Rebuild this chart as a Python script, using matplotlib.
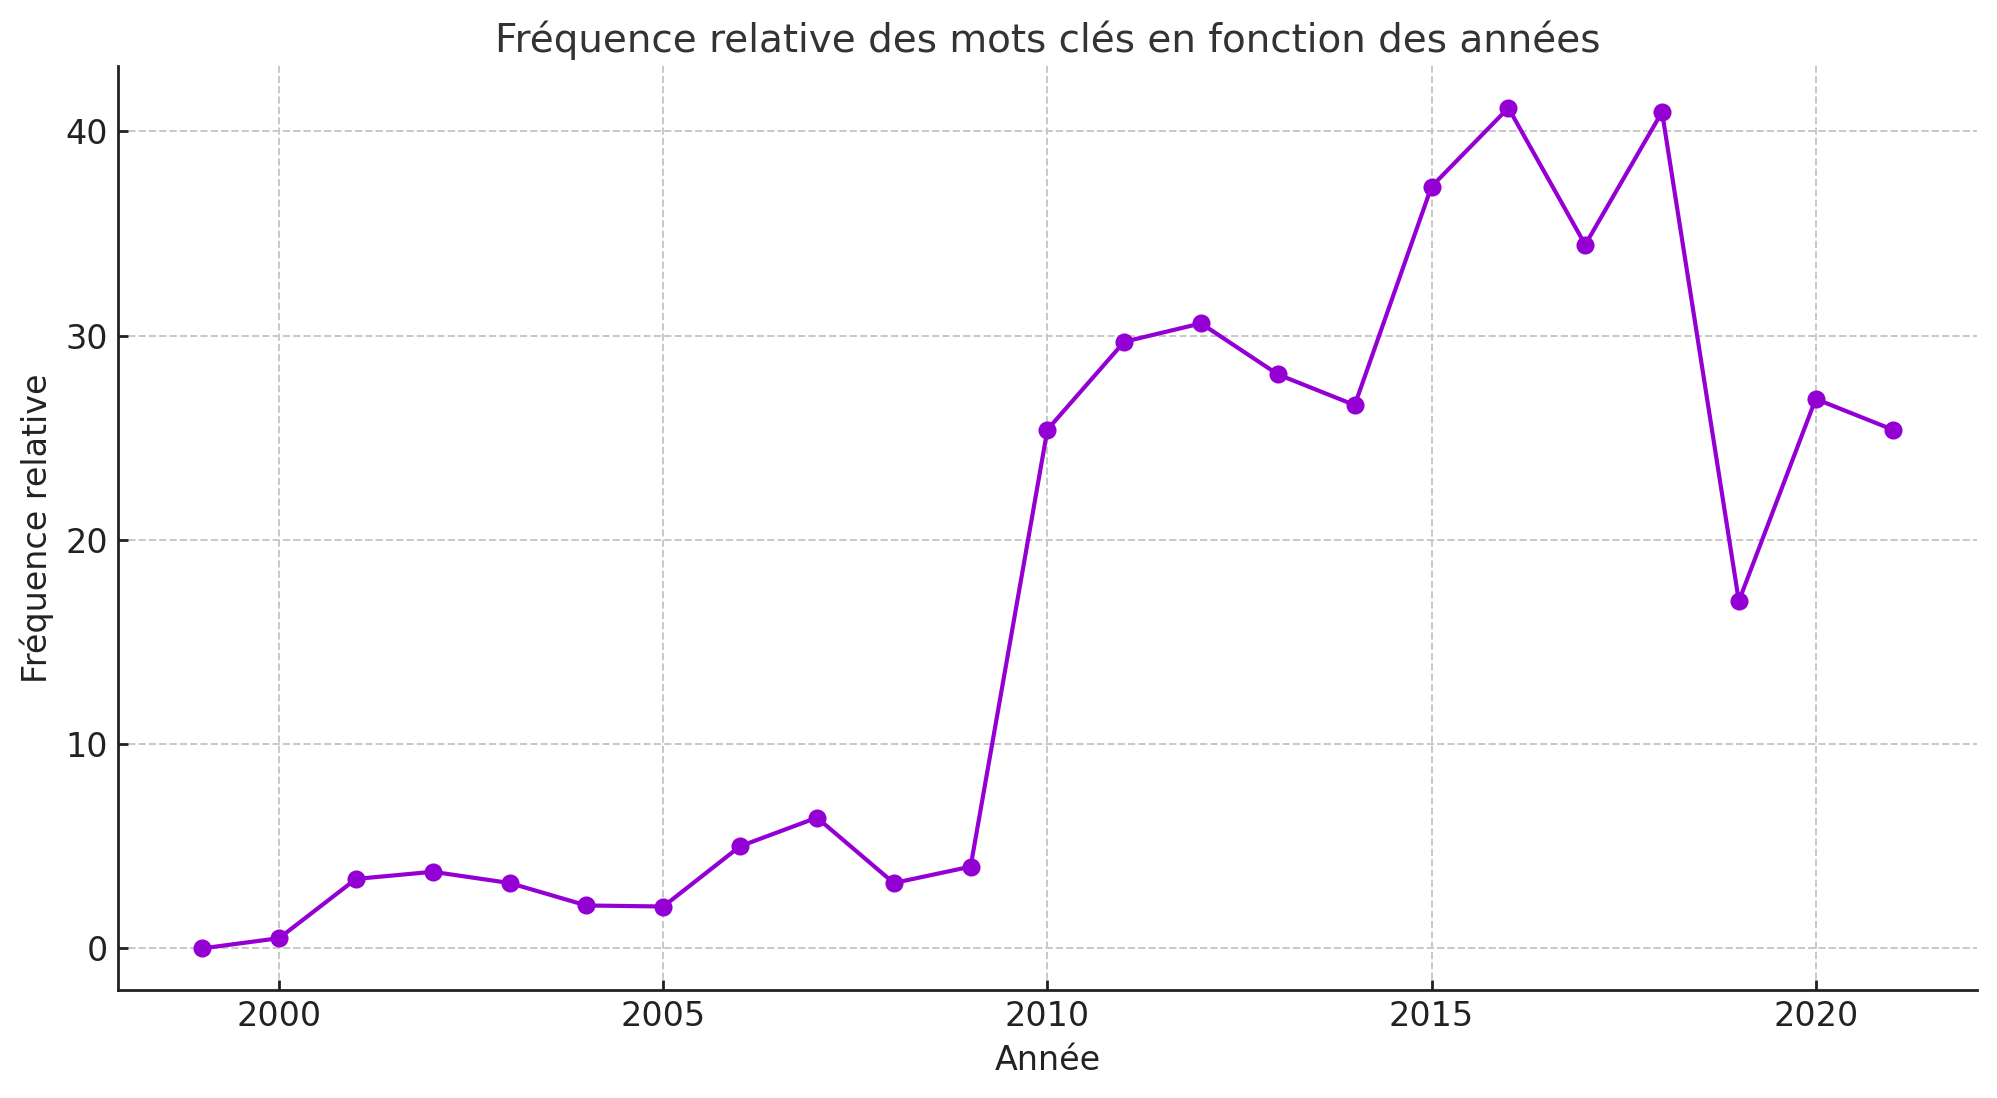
import matplotlib
matplotlib.use('Agg')
import matplotlib.pyplot as plt

# data
annees = [1999, 2000, 2001, 2002, 2003, 2004, 2005, 2006, 2007, 2008, 2009, 2010,
          2011, 2012, 2013, 2014, 2015, 2016, 2017, 2018, 2019, 2020, 2021]
frequence = [0.0, 0.5, 3.4, 3.75, 3.2, 2.1, 2.05, 5.0, 6.4, 3.2, 4.0, 25.4,
             29.7, 30.6, 28.1, 26.6, 37.3, 41.15, 34.45, 40.95, 17.0, 26.9, 25.4]

COULEUR = '#9400d3'
TXT = '#222222'

fig = plt.figure(figsize=(9.985, 5.49), dpi=200)
ax = fig.add_axes([0.059, 0.098, 0.931, 0.842])

ax.plot(annees, frequence, color=COULEUR, lw=1.5, marker='o', markersize=5.5, zorder=3)

ax.set_title('Fréquence relative des mots clés en fonction des années',
             fontsize=14, color='#333333', pad=5)
ax.set_xlabel('Année', fontsize=12, color=TXT)
ax.set_ylabel('Fréquence relative', fontsize=12, color=TXT)

ax.set_xticks([2000, 2005, 2010, 2015, 2020])
ax.set_yticks([0, 10, 20, 30, 40])
ax.tick_params(direction='in', length=3.6, width=1, labelsize=12, colors=TXT)
ax.grid(True, linestyle='--', color='#c8c8c8', lw=0.7)

for s in ['top', 'right']:
    ax.spines[s].set_visible(False)
for s in ['left', 'bottom']:
    ax.spines[s].set_linewidth(1.0)
    ax.spines[s].set_color(TXT)

fig.savefig('out.png', dpi=200)
